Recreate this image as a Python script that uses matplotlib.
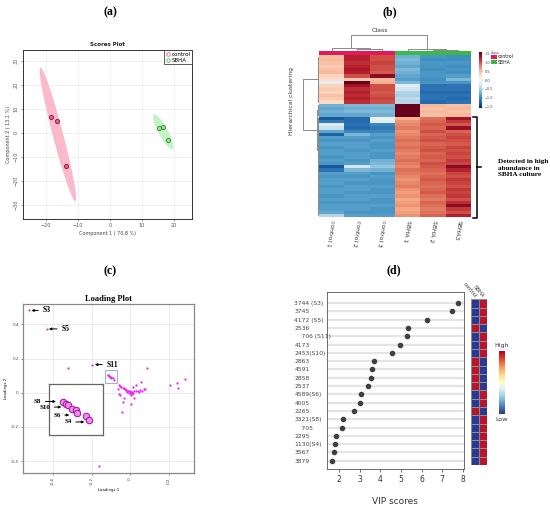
import numpy as np
import matplotlib.pyplot as plt
from matplotlib.colors import ListedColormap
from matplotlib.patches import Rectangle
from matplotlib.lines import Line2D

# ---- (a) scores plot data
ctrl_pc1 = [-18.4, -16.7, -13.8]
ctrl_pc2 = [6.8, 5.1, -13.7]
sbha_pc1 = [15.4, 16.5, 18.0]
sbha_pc2 = [1.9, 2.5, -2.9]

# ---- (b) heatmap data (rows top->bottom), columns
hm_cols = ['control 1', 'control 2', 'control 3', 'SBHA 1', 'SBHA 2', 'SBHA3']
c1 = [0.45, 0.5, 0.45, 0.4, 0.45, 0.5, 0.35, 0.3, -0.15, 0.35,
      0.4, 0.35, 0.45, 0.4, 0.3, -0.75, -0.8, -0.75, -0.8, -1.3,
      -1.1, -0.2, -0.35, -0.8, -1.25, -0.85, -0.9, -0.85, -0.9, -0.85,
      -0.85, -0.9, -0.85, -0.9, -1.3, -1.15, -0.85, -0.9, -0.85, -0.85,
      -0.9, -0.85, -0.85, -0.9, -0.85, -0.9, -0.85, -0.85, -0.8, -0.45]
c2 = [1.2, 1.2, 1.15, 1.2, 1.25, 1.2, 1.0, 0.4, 1.9, 1.3,
      1.15, 1.2, 1.15, 1.2, 1.15, -0.7, -0.75, -0.7, -0.8, -1.2,
      -1.2, -1.15, -1.2, -1.0, -0.7, -0.85, -0.9, -0.85, -0.85, -0.9,
      -0.85, -0.85, -0.9, -0.85, -0.3, -0.7, -0.85, -0.9, -0.85, -0.9,
      -0.85, -0.85, -0.9, -0.85, -0.85, -0.9, -0.85, -0.85, -0.9, -0.85]
c3 = [1.0, 1.0, 1.05, 1.0, 1.0, 0.95, 1.4, 0.5, 0.55, 1.0,
      1.0, 0.95, 1.0, 1.05, 1.0, -0.7, -0.75, -0.7, -0.75, -0.1,
      -0.15, -1.0, -1.1, -1.0, -0.85, -0.9, -0.85, -0.9, -0.9, -0.85,
      -0.9, -0.9, -0.75, -0.7, -0.6, -0.75, -0.9, -0.85, -0.9, -0.9,
      -0.85, -0.9, -0.9, -0.85, -0.9, -0.9, -0.85, -0.9, -0.9, -0.85]
s1 = [-0.75, -0.7, -0.75, -0.8, -0.7, -0.75, -0.8, -0.85, -0.7, -0.15,
      -0.3, -0.45, -0.5, -0.4, -0.45, 1.9, 1.95, 1.9, 1.85, 0.55,
      0.7, 0.75, 0.8, 0.7, 0.75, 0.8, 0.85, 0.8, 0.85, 0.8,
      0.75, 0.8, 0.85, 0.8, 0.75, 0.85, 0.8, 0.75, 0.7, 0.75,
      0.8, 0.7, 0.65, 0.7, 0.6, 0.65, 0.7, 0.6, 0.65, 0.7]
s2 = [-0.9, -0.95, -0.9, -0.9, -0.95, -0.9, -0.9, -0.95, -0.9, -1.15,
      -1.15, -1.2, -1.15, -1.15, -1.2, 0.5, 0.45, 0.5, 0.45, 0.85,
      0.9, 0.95, 0.9, 1.0, 0.9, 0.95, 1.0, 0.9, 0.95, 1.0,
      0.9, 0.95, 0.9, 1.0, 0.95, 0.9, 0.85, 0.9, 0.95, 0.9,
      0.85, 0.9, 0.95, 0.85, 0.8, 0.9, 0.85, 0.8, 0.85, 0.9]
s3 = [-0.95, -0.95, -0.9, -0.95, -0.9, -0.95, -0.85, -0.7, -0.9, -1.15,
      -1.15, -1.2, -1.15, -1.2, -1.15, 0.45, 0.5, 0.45, 0.5, 1.3,
      1.1, 0.95, 1.35, 0.9, 1.0, 1.05, 1.0, 0.95, 1.05, 1.0,
      1.05, 1.0, 1.1, 1.05, 1.4, 1.2, 1.05, 1.0, 1.1, 1.05,
      1.0, 1.1, 1.05, 1.1, 1.0, 1.15, 1.4, 1.1, 1.0, 1.2]
hm_class = [0, 0, 0, 1, 1, 1]
# column tree: (child a, child b, height), leaves 0..5
col_merges = [(1, 2, 0.10), (0, 6, 0.16), (4, 5, 0.08), (3, 8, 0.14), (7, 9, 1.0)]
# row tree built on row groups (start, stop)
row_groups = [(0, 15), (15, 19), (19, 24), (24, 50)]
row_merges = [(2, 3, 0.08), (1, 4, 0.12), (0, 5, 1.0)]

# ---- (c) loading plot data
load_x = [-0.525, -0.432, -0.32, -0.197, -0.16, 0.088, 0.057, 0.074, 0.207, 0.24,
          0.245, 0.285, -0.057, -0.052, -0.036, -0.041, 0.003, -0.065, -0.06, -0.03,
          0.02, 0.03, 0.015, -0.055, -0.048, -0.04, -0.033, -0.027, -0.02, -0.012,
          0.0, 0.005, -0.005, 0.01, -0.01, 0.008, -0.003, 0.015, -0.015, 0.02,
          -0.02, 0.003, 0.03, 0.04, 0.05, 0.06, 0.07, 0.045]
load_y = [0.482, 0.375, 0.145, 0.165, -0.43, 0.143, 0.061, 0.021, 0.043, 0.055,
          0.03, 0.08, 0.045, -0.016, -0.057, -0.114, -0.067, 0.02, -0.01, -0.03,
          -0.03, 0.045, 0.035, 0.042, 0.036, 0.03, 0.025, 0.02, 0.014, 0.009,
          0.0, 0.003, -0.004, 0.005, 0.008, -0.006, 0.012, -0.002, 0.004, 0.01,
          0.015, -0.015, 0.01, 0.012, 0.015, 0.01, 0.02, 0.005]
box_x = [-0.1165, -0.1128, -0.1098, -0.1053, -0.0999, -0.0987, -0.0879, -0.0842]
box_y = [0.1066, 0.1030, 0.1008, 0.0950, 0.0929, 0.0892, 0.0845, 0.0771]
zoom_xlim = (-0.133, -0.066)
zoom_ylim = (0.055, 0.134)

# ---- (d) VIP scores
vip_ids = ['3744 (S3)', '3745', '4172 (S5)', '2536', '    706 (S11)', '4173', '2453(S10)',
           '2863', '4591', '2858', '2537', '4589(S6)', '4005', '2265', '3321(S8)',
           '    705', '2295', '1130(S4)', '3567', '3879']
vip_scores = [7.78, 7.47, 6.27, 5.33, 5.28, 4.96, 4.54, 3.70, 3.57, 3.52,
              3.39, 3.04, 2.99, 2.73, 2.16, 2.15, 1.82, 1.79, 1.76, 1.63]
ctrl_high = [0, 0, 0, 1, 0, 0, 0, 1, 1, 1, 1, 0, 0, 1, 0, 0, 0, 0, 0, 0]
sbha_high = [1, 1, 1, 0, 1, 1, 1, 0, 0, 0, 0, 1, 1, 0, 1, 1, 1, 1, 1, 1]

W, H = 550, 509


def px(x0, y0, x1, y1):
    return [x0 / W, 1 - y1 / H, (x1 - x0) / W, (y1 - y0) / H]


def conf_ellipse(x, y, chi=5.991):
    xy = np.vstack([x, y])
    m = xy.mean(axis=1)
    vals, vecs = np.linalg.eigh(np.cov(xy))
    t = np.linspace(0, 2 * np.pi, 200)
    circ = np.vstack([np.cos(t), np.sin(t)])
    pts = vecs @ (np.sqrt(vals * chi)[:, None] * circ)
    return pts + m[:, None]


def draw_tree(ax, merges, pos, hgt, vertical):
    pos = list(pos)
    hgt = list(hgt)
    for a, b, h in merges:
        xs = [pos[a], pos[a], pos[b], pos[b]]
        ys = [hgt[a], h, h, hgt[b]]
        if vertical:
            ax.plot(xs, ys, color='#8a8a8a', lw=0.7)
        else:
            ax.plot(ys, xs, color='#8a8a8a', lw=0.7)
        pos.append((pos[a] + pos[b]) / 2)
        hgt.append(h)


serif = 'Liberation Serif'
fig = plt.figure(figsize=(5.5, 5.09), dpi=100)

for lab, x, y in [('(a)', 110, 12), ('(b)', 390, 12), ('(c)', 110, 271), ('(d)', 394, 270)]:
    fig.text(x / W, 1 - y / H, lab, ha='center', va='center', fontsize=8.5,
             family=serif, fontweight='bold')

# ================= (a)
ax = fig.add_axes(px(23, 50, 192, 219))
ex, ey = conf_ellipse(ctrl_pc1, ctrl_pc2)
ax.fill(ex, ey, color='#fcb9ca', lw=0, zorder=1)
ex, ey = conf_ellipse(sbha_pc1, sbha_pc2)
ax.fill(ex, ey, color='#c4f2c4', lw=0, zorder=1)
ax.scatter(ctrl_pc1, ctrl_pc2, s=9, facecolor='#e0628e', edgecolor='#8c1038', lw=0.6, zorder=3)
ax.scatter(sbha_pc1, sbha_pc2, s=9, facecolor='#9be29b', edgecolor='#2a8a2a', lw=0.6, zorder=3)
ax.set_xlim(-27.2, 25.6)
ax.set_ylim(-35.8, 34.5)
ax.set_xticks([-20, -10, 0, 10, 20])
ax.set_yticks([-30, -20, -10, 0, 10, 20, 30])
ax.grid(color='#ececec', lw=0.5)
ax.set_axisbelow(True)
ax.tick_params(labelsize=3.5, colors='#555', length=1.5, width=0.4, pad=1.5)
for t in ax.get_yticklabels():
    t.set_rotation(90)
    t.set_va('center')
for s in ax.spines.values():
    s.set_color('#333')
    s.set_linewidth(0.7)
ax.set_title('Scores Plot', fontsize=4, fontweight='bold', pad=3, color='#222')
ax.set_xlabel('Component 1 ( 70.8 %)', fontsize=3.5, color='#444', labelpad=2)
ax.set_ylabel('Component 2 ( 13.1 %)', fontsize=3.5, color='#444', labelpad=2)
handles = [Line2D([], [], marker='o', ls='', ms=2.5, mfc='none', mec='#e0628e', mew=0.6),
           Line2D([], [], marker='o', ls='', ms=2.5, mfc='none', mec='#4cbf4c', mew=0.6)]
leg = ax.legend(handles, ['control', 'SBHA'], loc='upper right', fontsize=4, frameon=True,
                fancybox=False, borderpad=0.3, handletextpad=0.2, labelspacing=0.15,
                handlelength=0.8, borderaxespad=0.0)
leg.get_frame().set_edgecolor('#333')
leg.get_frame().set_linewidth(0.7)

# ================= (b)
mat = np.column_stack([c1, c2, c3, s1, s2, s3])
nrow = mat.shape[0]
axh = fig.add_axes(px(319, 55, 471, 217))
im = axh.imshow(mat, cmap='RdBu_r', vmin=-1.55, vmax=1.55, aspect='auto', interpolation='nearest')
axh.axis('off')
for i, lab in enumerate(hm_cols):
    axh.text(i + 0.05, -0.02, lab, transform=axh.get_xaxis_transform(), rotation=-100,
             rotation_mode='anchor', ha='left', va='center', fontsize=4.3, color='#333')

axs = fig.add_axes(px(319, 51, 471, 55))
axs.imshow([hm_class], cmap=ListedColormap(['#e4195a', '#3cb84a']), aspect='auto')
axs.axis('off')

axt = fig.add_axes(px(319, 33, 471, 51))
draw_tree(axt, col_merges, range(len(hm_cols)), [0] * len(hm_cols), True)
axt.set_xlim(-0.5, len(hm_cols) - 0.5)
axt.set_ylim(0, 1.12)
axt.axis('off')
fig.text(380 / W, 1 - 31 / H, 'Class', ha='center', va='center', fontsize=4.5, color='#333')

axl = fig.add_axes(px(300, 55, 319, 217))
gpos, ghgt = [], []
for a, b in row_groups:
    rows = np.arange(a, b)
    for r in rows:
        axl.plot([0, 0.04], [r, r], color='#8a8a8a', lw=0.5)
    axl.plot([0.04, 0.04], [a, b - 1], color='#8a8a8a', lw=0.7)
    gpos.append((a + b - 1) / 2)
    ghgt.append(0.04)
draw_tree(axl, row_merges, gpos, ghgt, False)
axl.set_xlim(1.19, 0)
axl.set_ylim(nrow - 0.5, -0.5)
axl.axis('off')
fig.text(292 / W, 1 - 101 / H, 'Hierarchical clustering', rotation=90, ha='center', va='center',
         fontsize=4.3, color='#333')

axcb = fig.add_axes(px(479.3, 52.3, 481.7, 107.7))
cb = fig.colorbar(im, cax=axcb, ticks=[-1.5, -1, -0.5, 0, 0.5, 1, 1.5])
cb.outline.set_visible(False)
cb.ax.tick_params(labelsize=2.5, length=1, width=0.3, pad=1, colors='#444')
fig.text(491 / W, 1 - 52.5 / H, 'class', fontsize=2.5, va='center', color='#444')
fig.add_artist(Rectangle((491 / W, 1 - 59.3 / H), 6 / W, 4.5 / H, transform=fig.transFigure,
                         color='#e4195a', lw=0))
fig.add_artist(Rectangle((491 / W, 1 - 64 / H), 6 / W, 4.5 / H, transform=fig.transFigure,
                         color='#3cb84a', lw=0))
fig.text(498 / W, 1 - 57 / H, 'control', fontsize=3.3, va='center', color='#222')
fig.text(498 / W, 1 - 62 / H, 'SBHA', fontsize=3.3, va='center', color='#222')

fig.add_artist(Line2D(np.array([473, 477, 477, 473]) / W, 1 - np.array([117, 117, 218, 218]) / H,
                      color='k', lw=1.1))
fig.add_artist(Line2D(np.array([477, 481]) / W, 1 - np.array([167, 167]) / H, color='k', lw=1.1))
fig.text(498 / W, 1 - 168 / H, 'Detected in high\nabundance in\nSBHA culture', family=serif,
         fontweight='bold', fontsize=5.2, va='center', ha='left', linespacing=1.35)

# ================= (c)
axc = fig.add_axes(px(23, 304, 194, 473))
axc.scatter(load_x, load_y, s=2.5, color='#ee22ee', lw=0, zorder=3)
axc.scatter(box_x, box_y, s=2.5, color='#ee22ee', lw=0, zorder=3)
axc.add_patch(Rectangle((zoom_xlim[0], zoom_ylim[0]), zoom_xlim[1] - zoom_xlim[0],
                        zoom_ylim[1] - zoom_ylim[0], fill=False, edgecolor='#9db3dc', lw=0.8))
axc.set_xlim(-0.555, 0.33)
axc.set_ylim(-0.47, 0.52)
axc.set_xticks([-0.4, -0.2, 0, 0.2])
axc.set_xticklabels(['-0.4', '-0.2', '0', '0.2'], rotation=90)
axc.set_yticks([-0.4, -0.2, 0, 0.2, 0.4])
axc.set_yticklabels(['-0.4', '-0.2', '0', '0.2', '0.4'])
axc.grid(color='#e6e6e6', lw=0.6)
axc.set_axisbelow(True)
axc.tick_params(labelsize=3, colors='#444', length=1.5, width=0.4, pad=1.5)
for s in axc.spines.values():
    s.set_color('#888')
    s.set_linewidth(0.9)
axc.set_title('Loading Plot', family=serif, fontweight='bold', fontsize=6, pad=2)
axc.set_xlabel('Loadings 1', fontsize=2.8, labelpad=2)
axc.set_ylabel('Loadings 2', fontsize=2.8, labelpad=2)
arrow = dict(arrowstyle='-|>', lw=0.7, color='k', mutation_scale=3.5, shrinkA=1, shrinkB=0)
for lab, hx, tx, y in [('S3', -0.512, -0.455, 0.482), ('S5', -0.421, -0.357, 0.374),
                       ('S11', -0.183, -0.124, 0.165)]:
    axc.annotate(lab, xy=(hx, y), xytext=(tx, y), ha='left', va='center', family=serif,
                 fontweight='bold', fontsize=5.5, arrowprops=arrow)

axi = fig.add_axes(px(49.3, 384.3, 103.3, 434.5))
axi.scatter(box_x, box_y, s=22, facecolor='#ef8cef', edgecolor='#a0109a', lw=0.7, zorder=3)
axi.set_xlim(*zoom_xlim)
axi.set_ylim(*zoom_ylim)
axi.set_xticks([])
axi.set_yticks([])
for s in axi.spines.values():
    s.set_color('#666')
    s.set_linewidth(0.9)
for lab, tx, hx, fy in [('S8', -0.284, 0.123, 0.658), ('S10', -0.185, 0.222, 0.546),
                        ('S6', 0.074, 0.37, 0.388), ('S4', 0.278, 0.648, 0.25)]:
    axi.annotate(lab, xy=(hx, fy), xytext=(tx, fy), xycoords='axes fraction',
                 textcoords='axes fraction', ha='left', va='center', family=serif,
                 fontweight='bold', fontsize=5, arrowprops=arrow, annotation_clip=False)

# ================= (d)
axd = fig.add_axes(px(327, 292, 464, 469))
rows = np.arange(len(vip_ids))
for r in rows:
    axd.axhline(r, color='#e4e4e4', lw=1.6, zorder=1)
axd.scatter(vip_scores, rows, s=9, color='#404040', zorder=3)
axd.set_xlim(1.40, 8.06)
axd.set_ylim(len(vip_ids), -1.33)
axd.set_xticks([2, 3, 4, 5, 6, 7, 8])
axd.set_yticks(rows)
axd.set_yticklabels(vip_ids)
axd.tick_params(axis='y', length=0, pad=23.5, labelsize=4.3, labelcolor='#444')
for t in axd.get_yticklabels():
    t.set_ha('left')
axd.tick_params(axis='x', labelsize=5.5, length=2.5, width=0.5, pad=2, colors='#333')
for s in axd.spines.values():
    s.set_color('#555')
    s.set_linewidth(0.6)
axd.set_xlabel('VIP scores', fontsize=6.5, color='#333')
axd.xaxis.set_label_coords(0.496, (469 - 502) / 177)
axd.xaxis.label.set_va('center')

axv = fig.add_axes(px(470.5, 299.3, 486.5, 465))
axv.pcolormesh(np.column_stack([ctrl_high, sbha_high]), cmap=ListedColormap(['#2b3896', '#b8142c']),
               edgecolors='#8c8c8c', linewidth=0.6)
axv.set_xlim(0, 2)
axv.set_ylim(len(vip_ids), 0)
axv.axis('off')
for i, lab in enumerate(['control', 'SBHA']):
    axv.text(i + 0.6, -0.25, lab, rotation=-50, rotation_mode='anchor', ha='right', va='center',
             fontsize=3.8, color='#333')

axg = fig.add_axes(px(499, 350.7, 504.3, 414))
axg.imshow(np.linspace(1, 0, 100)[:, None], cmap='RdYlBu_r', aspect='auto')
axg.axis('off')
fig.text(501.6 / W, 1 - 345 / H, 'High', ha='center', va='center', fontsize=4.5, color='#333')
fig.text(501.6 / W, 1 - 419.5 / H, 'Low', ha='center', va='center', fontsize=4.5, color='#333')

fig.savefig('out.png', dpi=100)
